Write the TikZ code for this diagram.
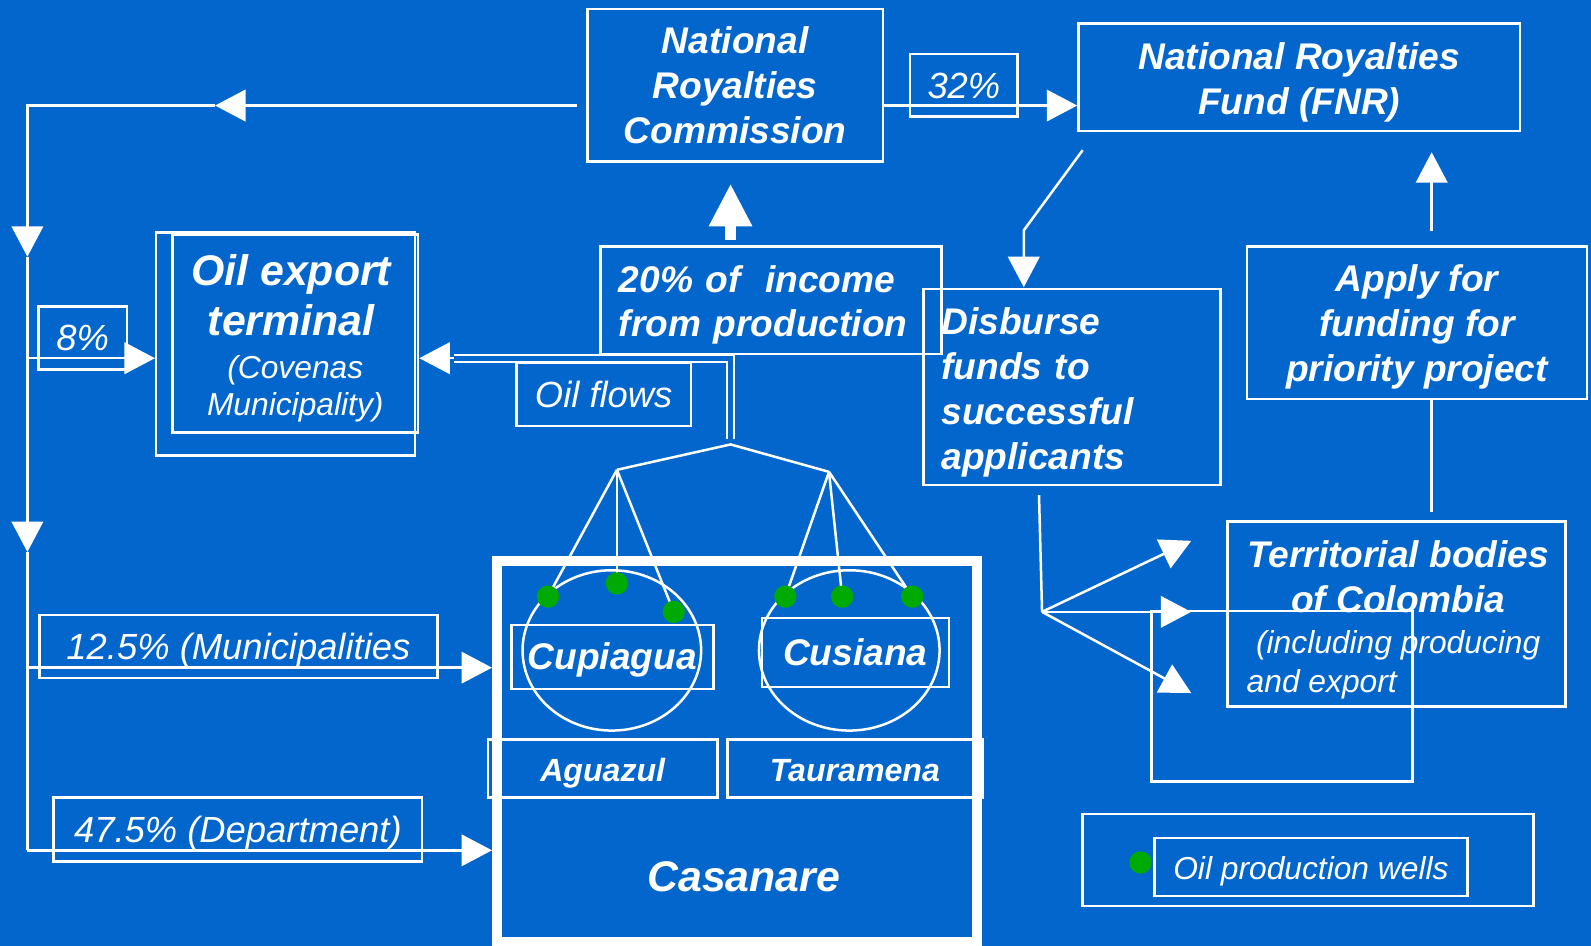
\documentclass[tikz,border=0pt]{standalone}
\usepackage{fontspec}
\setmainfont{Liberation Sans}
\usepackage{tikz}
\usetikzlibrary{arrows.meta, calc}

\definecolor{bgblue}{RGB}{3,102,204}
\definecolor{wellgreen}{RGB}{0,170,0}

\tikzset{
  box/.style={draw=white, line width=0.7pt, inner sep=0pt, text=white},
  oneline/.style={text height=0.72em, text depth=0pt},
  wire/.style={draw=white, line width=0.7pt},
  flow/.style={draw=white, line width=0.7pt, -{Triangle[length=0.30cm, width=0.31cm]}},
  pipe/.style={draw=white, line width=0.6pt, double=bgblue, double distance=1.4pt},
  well/.style={circle, fill=wellgreen, draw=none, minimum size=0.22cm, inner sep=0pt},
  bigtxt/.style={text=white, align=center, font=\fontsize{10.4}{12.6}\selectfont\bfseries\itshape},
  hugetxt/.style={text=white, align=center, font=\fontsize{12}{14.2}\selectfont\bfseries\itshape},
  midtxt/.style={text=white, align=center, font=\fontsize{9}{11}\selectfont\bfseries\itshape},
  smalltxt/.style={text=white, align=center, font=\fontsize{10.2}{12}\selectfont\itshape},
  tinytxt/.style={text=white, align=center, font=\fontsize{8.9}{10.2}\selectfont\itshape},
}

\begin{document}
\begin{tikzpicture}[x=0.01cm, y=-0.01cm]
    \useasboundingbox (0,0) rectangle (1568,932);
    \fill[bgblue] (0,0) rectangle (1568,932);

    % boxes
    \node[box, bigtxt, minimum width=2.91cm, minimum height=1.50cm] (nrc) at (724.5,84) {National\\Royalties\\Commission};
    \node[box, minimum width=4.35cm, minimum height=1.06cm,
        label={[bigtxt, yshift=-0.05cm]center:{National Royalties\\Fund (FNR)}}] (fnr) at (1280.5,76) {};
    \node[box, smalltxt, oneline, minimum width=1.06cm, minimum height=0.62cm] (pct32) at (950,84) {32\%};
    \node[box, minimum width=3.36cm, minimum height=1.06cm,
        label={[bigtxt, align=left, text width=3.0cm, yshift=-0.045cm]center:{20\% of\ \ income\\from production}}] (inc) at (760,296) {};
    \node[box, minimum width=2.93cm, minimum height=1.93cm,
        label={[bigtxt, align=left, text width=2.57cm, yshift=-0.05cm]center:{Disburse\\funds to\\successful\\applicants}}] (disb) at (1056.5,381.5) {};
    \node[box, minimum width=3.35cm, minimum height=1.50cm,
        label={[bigtxt, yshift=-0.045cm]center:{Apply for\\funding for\\priority project}}] (apply) at (1396.5,318) {};
    \node[box, smalltxt, oneline, minimum width=1.72cm, minimum height=0.62cm] (oilflows) at (595,389) {Oil flows};

    \node[box, minimum width=2.55cm, minimum height=2.20cm] (oilback) at (281.5,339) {};
    \node[box, minimum width=2.42cm, minimum height=1.95cm] (oilterm) at (291,328.5) {};
    \node[hugetxt] (oiltxt) at (287,291) {Oil export\\terminal};
    \node[tinytxt] (oilsub) at (291,383) {(Covenas\\Municipality)};

    \node[box, smalltxt, oneline, minimum width=0.87cm, minimum height=0.62cm] (pct8) at (81.5,333) {8\%};
    \node[box, smalltxt, oneline, minimum width=3.92cm, minimum height=0.62cm] (pct12) at (235,637) {12.5\% (Municipalities};
    \node[box, smalltxt, oneline, minimum width=3.63cm, minimum height=0.63cm] (pct47) at (234.5,817.5) {47.5\% (Department)};

    \draw[wire] (1135,602) rectangle (1392,770);
    \node[box, minimum width=3.33cm, minimum height=1.82cm] (terr) at (1376.5,605) {};
    \node[bigtxt] (terrtxt) at (1378,568) {Territorial bodies\\of Colombia};
    \node[tinytxt, oneline] (terrsub) at (1378,631) {(including producing};
    \node[tinytxt, oneline, anchor=west, inner sep=0pt] (terrend) at (1228,670) {and export};

    % Casanare
    \node[draw=white, line width=0.1cm, minimum width=4.73cm, minimum height=3.75cm, inner sep=0pt] (casanare) at (726.5,740.5) {};
    \node[hugetxt, oneline] (casname) at (733,866) {Casanare};
    \draw[wire] (603,641) ellipse [x radius=88, y radius=79];
    \draw[wire] (837,641) ellipse [x radius=89, y radius=79];
    \node[box, bigtxt, oneline, minimum width=1.99cm, minimum height=0.63cm] (cupiagua) at (603.5,647.5) {Cupiagua};
    \node[box, bigtxt, oneline, minimum width=1.84cm, minimum height=0.68cm] (cusiana) at (843,643) {Cusiana};
    \node[box, midtxt, oneline, minimum width=2.26cm, minimum height=0.57cm] (aguazul) at (594,757.5) {Aguazul};
    \node[box, midtxt, oneline, minimum width=2.51cm, minimum height=0.57cm] (tauramena) at (842.5,757.5) {Tauramena};

    % wells and oil flow
    \coordinate (apex) at (720,438);
    \coordinate (lfork) at (608,463);
    \coordinate (rfork) at (817,465);
    \draw[wire] (lfork) -- (apex) -- (rfork);
    \foreach \n/\x/\y in {w1/540/588, w2/608/575, w3/664/603, w4/774/588, w5/830/588, w6/899/588} {
        \coordinate (\n) at (\x,\y);
    }
    \foreach \n in {w1,w2,w3} {
        \draw[wire] (lfork) -- (\n);
    }
    \foreach \n in {w4,w5,w6} {
        \draw[wire] (rfork) -- (\n);
    }
    \foreach \n in {w1,w2,w3,w4,w5,w6} {
        \node[well] at (\n) {};
    }
    \coordinate (pipeend) at (447,353);
    \draw[pipe] (720,433) |- (pipeend);
    \draw[flow] (pipeend) -- (oilterm.east |- pipeend);
    \coordinate (upfoot) at (720,237);
    \draw[white, line width=0.1cm, -{Triangle[length=0.42cm, width=0.40cm]}] (upfoot) -- (upfoot |- 0,181);

    % royalties
    \coordinate (rowtop) at (0,104);
    \draw[flow] (nrc.east |- rowtop) -- (fnr.west |- rowtop);
    \coordinate (nrcout) at (569,104);
    \coordinate (toph) at (212,104);
    \coordinate (jtop) at (27,104);
    \coordinate (jdown1) at (27,253);
    \coordinate (jdown2) at (27,544);
    \coordinate (j8) at (27,353);
    \coordinate (j12) at (27,658);
    \coordinate (j47) at (27,838);
    \draw[flow] (nrcout) -- (toph);
    \draw[flow] (toph) -- (jtop) -- (jdown1);
    \draw[flow] (jdown1) -- (jdown2);
    \draw[wire] (jdown2) -- (j47);
    \draw[flow] (j8) -- (oilback.west |- j8);
    \draw[flow] (j12) -- (casanare.west |- j12);
    \draw[flow] (j47) -- (casanare.west |- j47);

    % fund flows
    \draw[flow] (1067,148) -- (1009,227) -- (1009,283);
    \draw[flow] (1411,228) -- (1411,150);
    \draw[wire] (1411,393) -- (1411,505);
    \coordinate (dfork) at (1027,603);
    \draw[wire] (1024,488) -- (dfork);
    \draw[flow] (dfork) -- (1174,533);
    \draw[flow] (dfork) -- (1174,603);
    \draw[flow] (dfork) -- (1174,683);

    % legend
    \node[box, minimum width=4.44cm, minimum height=0.91cm] (legend) at (1289,847.5) {};
    \node[box, tinytxt, oneline, minimum width=3.08cm, minimum height=0.57cm] (legtxt) at (1292,854.5) {Oil production wells};
    \node[well] (legdot) at (1124,850) {};
\end{tikzpicture}
\end{document}
